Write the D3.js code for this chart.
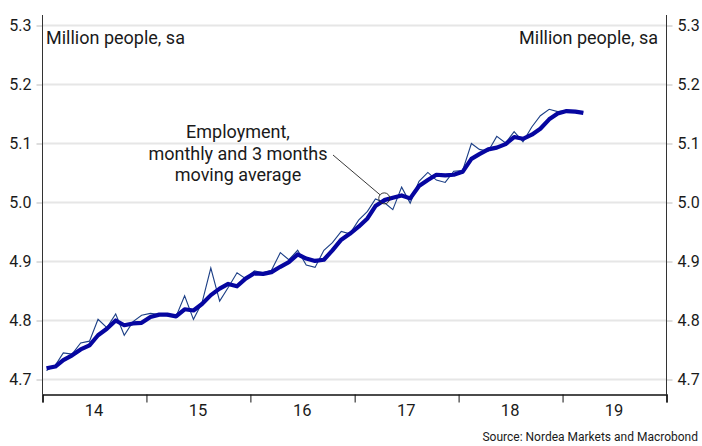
<!DOCTYPE html>
<html>
<head>
<meta charset="utf-8">
<script src="https://cdn.jsdelivr.net/npm/d3@7"></script>
<style>
	body { margin: 0; background: #fff; }
	text { font-family: Roboto, "Noto Sans", sans-serif; fill: #1a1a1a; }
</style>
</head>
<body>
<div id="chart"></div>
<script>
// monthly employment, million people, sa (Jan 2014 - Mar 2019)
const monthly = [
	4.715, 4.724, 4.745, 4.743, 4.762, 4.765, 4.802, 4.788, 4.811, 4.775, 4.798, 4.809,
	4.812, 4.810, 4.808, 4.807, 4.842, 4.802, 4.830, 4.889, 4.833, 4.856, 4.881, 4.871,
	4.884, 4.881, 4.885, 4.915, 4.903, 4.919, 4.894, 4.890, 4.919, 4.932, 4.951, 4.947,
	4.970, 4.985, 5.006, 5.000, 4.988, 5.026, 4.999, 5.036, 5.051, 5.038, 5.034, 5.053,
	5.054, 5.100, 5.090, 5.087, 5.112, 5.101, 5.120, 5.103, 5.128, 5.147, 5.158, 5.154,
	5.156, 5.155, 5.153
];

// 3 months moving average
const movingAvg = [
	4.719, 4.722, 4.733, 4.741, 4.751, 4.758, 4.775, 4.786, 4.800, 4.792, 4.795, 4.796,
	4.806, 4.810, 4.810, 4.807, 4.819, 4.817, 4.828, 4.843, 4.854, 4.862, 4.858, 4.871,
	4.880, 4.879, 4.882, 4.891, 4.899, 4.912, 4.905, 4.901, 4.903, 4.919, 4.937, 4.947,
	4.959, 4.973, 4.994, 5.004, 5.008, 5.012, 5.007, 5.028, 5.038, 5.047, 5.046, 5.047,
	5.052, 5.074, 5.082, 5.090, 5.093, 5.099, 5.111, 5.108, 5.115, 5.125, 5.141, 5.151,
	5.155, 5.154, 5.152
];

const months = d3.timeMonth.range(new Date(2014, 0, 1), new Date(2019, 3, 1));
const years = [2014, 2015, 2016, 2017, 2018, 2019];
const yearLabels = ['14', '15', '16', '17', '18', '19'];
const yTicks = [4.7, 4.8, 4.9, 5.0, 5.1, 5.2, 5.3];

const w = 702, h = 446;
const plot = { left: 42.5, right: 666.5, top: 25.5, bottom: 379.5, base: 394.5 };

const svg = d3.select('#chart').append('svg')
	.attr('width', w)
	.attr('height', h);

const x = d3.scaleTime()
	.domain([new Date(2014, 0, 1), new Date(2020, 0, 1)])
	.range([plot.left, plot.right]);

const y = d3.scaleLinear()
	.domain([4.7, 5.3])
	.range([plot.bottom, plot.top]);

// points sit in the middle of each month
const midMonth = d => d3.timeDay.offset(d, 14);

//gridlines
svg.append('g').selectAll('line')
	.data(yTicks)
	.join('line')
	.attr('x1', plot.left)
	.attr('x2', plot.right)
	.attr('y1', d => y(d))
	.attr('y2', d => y(d))
	.attr('stroke', '#e6e6e6')
	.attr('stroke-width', 2);

//left + right value axes
const leftAxis = svg.append('g')
	.attr('transform', `translate(${plot.left},0)`)
	.call(d3.axisLeft(y).tickValues(yTicks).tickSize(6).tickPadding(5).tickFormat(d3.format('.1f')));

const rightAxis = svg.append('g')
	.attr('transform', `translate(${plot.right},0)`)
	.call(d3.axisRight(y).tickValues(yTicks).tickSize(6).tickPadding(5).tickFormat(d3.format('.1f')));

[leftAxis, rightAxis].forEach(a => {
	a.select('.domain').remove();
	a.selectAll('.tick line').attr('stroke', '#bbb');
	a.selectAll('.tick text')
		.style('font-family', 'Roboto, sans-serif')
		.style('font-size', '16px')
		.attr('fill', '#1a1a1a');
});

// vertical frame lines
[plot.left, plot.right].forEach(xv => {
	svg.append('line')
		.attr('x1', xv).attr('x2', xv)
		.attr('y1', 15).attr('y2', plot.base)
		.attr('stroke', '#333')
		.attr('stroke-width', 1);
});

//time axis
const bottomAxis = svg.append('g')
	.attr('transform', `translate(0,${plot.base})`)
	.call(d3.axisBottom(x).ticks(d3.timeYear.every(1)).tickSize(8).tickFormat(''));

bottomAxis.select('.domain').attr('stroke', '#111').attr('stroke-width', 1.5);
bottomAxis.selectAll('.tick line').attr('stroke', '#111');

svg.append('g').selectAll('text')
	.data(years)
	.join('text')
	.attr('x', d => x(new Date(d, 6, 1)))
	.attr('y', 416)
	.attr('text-anchor', 'middle')
	.style('font-size', '16.5px')
	.text((d, i) => yearLabels[i]);

//lines
const line = vals => d3.line()
	.x((d, i) => x(midMonth(months[i])))
	.y(d => y(d))(vals);

svg.append('path')
	.attr('d', line(monthly))
	.attr('fill', 'none')
	.attr('stroke', '#1c3f86')
	.attr('stroke-width', 1.1);

svg.append('path')
	.attr('d', line(movingAvg))
	.attr('fill', 'none')
	.attr('stroke', '#0606a0')
	.attr('stroke-width', 4.2)
	.attr('stroke-linejoin', 'round');

//unit labels
svg.append('text')
	.attr('x', 46)
	.attr('y', 44)
	.style('font-size', '18px')
	.text('Million people, sa');

svg.append('text')
	.attr('x', 658)
	.attr('y', 44)
	.attr('text-anchor', 'end')
	.style('font-size', '18px')
	.text('Million people, sa');

//annotation
const noteLines = ['Employment,', 'monthly and 3 months', 'moving average'];
svg.append('g').selectAll('text')
	.data(noteLines)
	.join('text')
	.attr('x', 238)
	.attr('y', (d, i) => 138 + i * 21.5)
	.attr('text-anchor', 'middle')
	.style('font-size', '18px')
	.text(d => d);

const cx = x(midMonth(new Date(2017, 3, 1))), cy = y(5.007), r = 5.5;
const lx = 333, ly = 155;
const ang = Math.atan2(cy - ly, cx - lx);

svg.append('line')
	.attr('x1', lx).attr('y1', ly)
	.attr('x2', cx - r * Math.cos(ang)).attr('y2', cy - r * Math.sin(ang))
	.attr('stroke', '#222')
	.attr('stroke-width', 0.9);

svg.append('circle')
	.attr('cx', cx).attr('cy', cy).attr('r', r)
	.attr('fill', 'none')
	.attr('stroke', '#222')
	.attr('stroke-width', 0.9);

//source
svg.append('text')
	.attr('x', 698)
	.attr('y', 441)
	.attr('text-anchor', 'end')
	.style('font-size', '12px')
	.text('Source: Nordea Markets and Macrobond');
</script>
</body>
</html>
